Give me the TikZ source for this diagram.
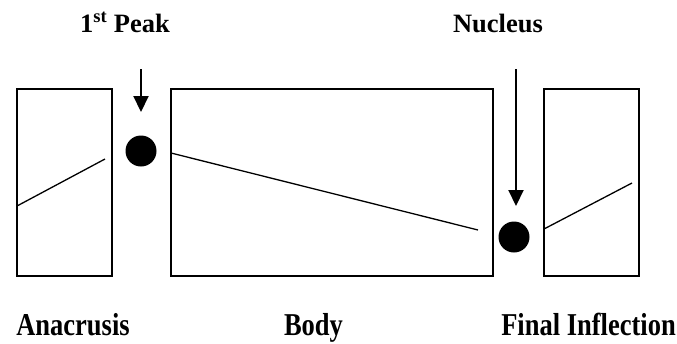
\documentclass[tikz,border=0pt]{standalone}
\usepackage{fontspec}
\usepackage{graphicx}
\setmainfont{Liberation Serif}
\usetikzlibrary{arrows.meta}
\newcommand{\tallbox}[1]{\scalebox{1}[1.2]{#1}}
\begin{document}
\begin{tikzpicture}[x=1pt,y=-1pt,
  box/.style={draw, line width=1.4pt, minimum width=95pt, minimum height=187pt, inner sep=0pt, outer sep=0pt},
  bodybox/.style={draw, line width=1.9pt, minimum width=322pt, minimum height=187pt, inner sep=0pt, outer sep=0pt},
  contour/.style={line width=1.3pt},
  dot/.style={fill=black, ellipse, minimum width=30pt, minimum height=32pt, inner sep=0pt},
  pointer/.style={line width=2.1pt, -{Triangle[length=16pt,width=15pt]}},
  lbl/.style={font=\fontsize{26.5}{30}\selectfont\bfseries, inner sep=0pt, anchor=base}]
\useasboundingbox (0,0) rectangle (677,343);
\node[box] (ana) at (64.5,182.5) {};
\node[bodybox] (body) at (332,182.5) {};
\node[box] (fin) at (591.5,182.5) {};
\node[fill=black, circle, minimum size=31pt, inner sep=0pt] (peak) at (141,151) {};
\node[fill=black, circle, minimum size=31pt, inner sep=0pt] (nuc) at (514,237) {};
\draw[contour] (17,206) -- (105,159);
\draw[contour] (171,153) -- (478,230);
\draw[contour] (544,229) -- (632,183);
\coordinate (p1s) at (141,69);
\coordinate (p1e) at (141,112);
\coordinate (p2s) at (516,69);
\coordinate (p2e) at (516,206);
\draw[pointer] (p1s) -- (p1e);
\draw[pointer] (p2s) -- (p2e);
\node[lbl] (tpeak) at (125,32) {1\textsuperscript{st} Peak};
\node[lbl] (tnuc) at (498,32) {Nucleus};
\node[lbl] (tana) at (73,335) {\tallbox{Anacrusis}};
\node[lbl] (tbody) at (313.5,335) {\tallbox{Body}};
\node[lbl] (tfin) at (588.5,335) {\tallbox{Final Inflection}};
\end{tikzpicture}
\end{document}
